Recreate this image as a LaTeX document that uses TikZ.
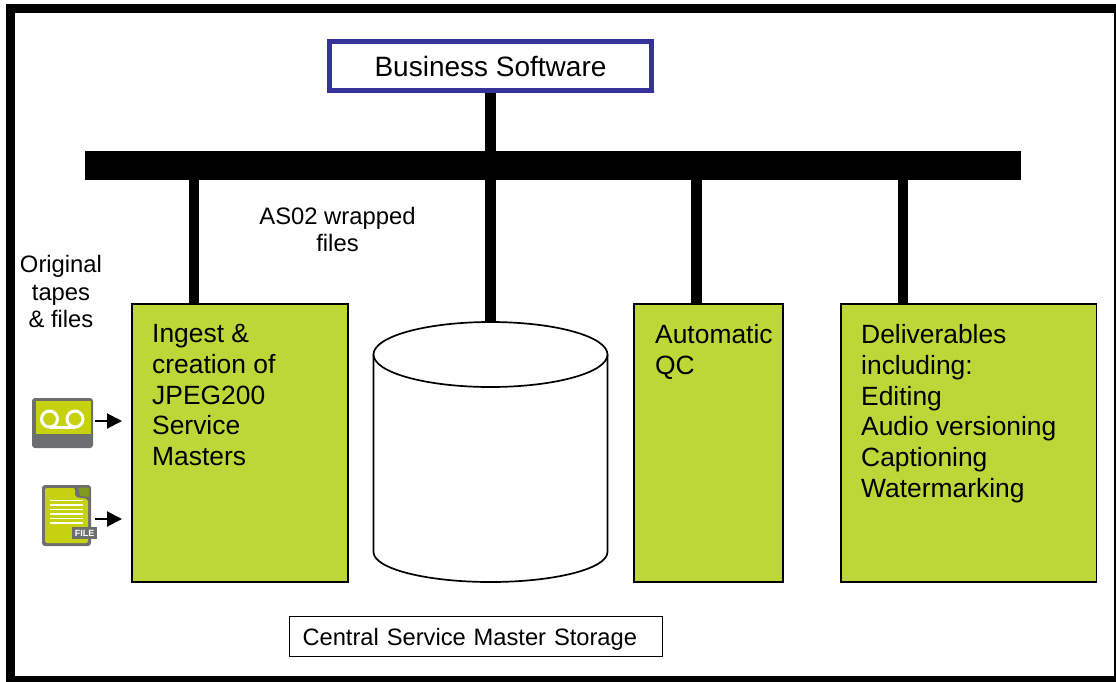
\documentclass[tikz,border=0pt]{standalone}
\usepackage{fontspec}
\setmainfont{Liberation Sans}
\usetikzlibrary{arrows.meta}
\definecolor{boxgreen}{HTML}{BDD739}
\definecolor{icongreen}{HTML}{C6D110}
\definecolor{icongrey}{HTML}{6D6E70}
\definecolor{foldgreen}{HTML}{7F9A1E}
\definecolor{softblue}{HTML}{333399}
\tikzset{
	stub/.style={line width=10.5pt},
	greenbox/.style={draw=black,line width=1.8pt,fill=boxgreen,anchor=north west,minimum height=277.6pt},
	boxtext/.style={anchor=north west,align=left,inner sep=0pt,font=\fontsize{26.4}{30.7}\selectfont},
	label/.style={align=center,font=\fontsize{23.8}{27.4}\selectfont},
	feed/.style={line width=2pt,shorten >=9pt,-{Triangle[length=15pt,width=15pt]}},
	reelline/.style={white,line width=3pt},
	fileline/.style={white,line width=1.4pt},
	storageline/.style={draw=black,line width=1.7pt,fill=white}
}
\begin{document}
\begin{tikzpicture}[x=1pt,y=-1pt]
	
	\useasboundingbox (0,0) rectangle (1116,681);
	\draw[line width=9pt] (10.5,8) rectangle (1118,680.5);
	
	\node[draw=softblue,line width=4.7pt,minimum width=322pt,minimum height=49pt,font=\fontsize{28}{30}\selectfont] (software) at (490.5,66) {Business Software};
	\node[fill=black,minimum width=936pt,minimum height=29.5pt,inner sep=0pt] (bus) at (553,165.3) {};
	
	\coordinate (ta) at (194.2,165);
	\coordinate (tb) at (696.5,165);
	\coordinate (tc) at (903,165);
	\coordinate (storagetop) at (490.5,322);
	
	\node[greenbox,minimum width=216pt] (ingest) at (131,303.3) {};
	\node[greenbox,minimum width=148.6pt] (qc) at (633.3,303.3) {};
	\node[greenbox,minimum width=255.5pt] (deliver) at (840,303.3) {};
	
	\node[boxtext] (ingesttext) at (152,324.3) {Ingest \&\\creation of\\JPEG200\\Service\\Masters};
	\node[boxtext] (qctext) at (655,324.3) {Automatic\\QC};
	\node[boxtext] (delivertext) at (861,324.3) {Deliverables\\including:\\Editing\\Audio versioning\\Captioning\\Watermarking};
	
	\draw[stub] (software.south) -- (storagetop);
	\draw[stub] (ta) -- (ta |- ingest.north);
	\draw[stub] (tb) -- (tb |- qc.north);
	\draw[stub] (tc) -- (tc |- deliver.north);
	
	\draw[storageline] (373.5,354) -- (373.5,552) .. controls (373.5,568.6) and (426,582) .. (490.5,582) .. controls (555,582) and (607.5,568.6) .. (607.5,552) -- (607.5,354);
	\draw[storageline] (490.5,354.5) ellipse (117 and 32.5);
	
	\node[label] (wrapped) at (337.5,229.5) {AS02 wrapped\\files};
	\node[label] (original) at (61,291.5) {Original\\tapes\\\& files};
	\node[draw=black,line width=1.5pt,minimum width=373pt,minimum height=40pt,text width=347pt,text height=17pt,text depth=0pt,align=left,font=\fontsize{23.7}{26}\selectfont] (central) at (476,636.5) {Central Service Master Storage};
	
	\node[fill=icongrey,rounded corners=3pt,minimum width=61pt,minimum height=50pt,inner sep=0pt] (tape) at (62.5,423) {};
	\fill[icongreen] (36,401) rectangle (90.5,434);
	\draw[reelline] (49.5,419) circle (8);
	\draw[reelline] (75,419) circle (8);
	\draw[reelline] (49.5,427) -- (75,427);
	
	\fill[icongrey,rounded corners=3pt] (42,485) -- (91,485) -- (91,546) -- (42,546) -- cycle;
	\fill[icongreen,rounded corners=2pt] (45,488) -- (75,488) -- (75,497) -- (88,499) -- (88,543) -- (45,543) -- cycle;
	\fill[foldgreen] (78,487.5) -- (89,487.5) -- (89,497) -- (80,496) -- cycle;
	\foreach \y in {500.5,505,509.5,514,518.5,523}
		\draw[fileline] (50,\y) -- (83,\y);
	\node[fill=icongrey,text=white,minimum width=25pt,minimum height=12.5pt,inner sep=0pt,font=\bfseries\fontsize{9}{9}\selectfont] (file) at (84.5,533) {FILE};
	
	\coordinate (fa) at (95,421);
	\coordinate (fb) at (95,519);
	\draw[feed] (fa) -- (fa -| ingest.west);
	\draw[feed] (fb) -- (fb -| ingest.west);
	
\end{tikzpicture}
\end{document}
